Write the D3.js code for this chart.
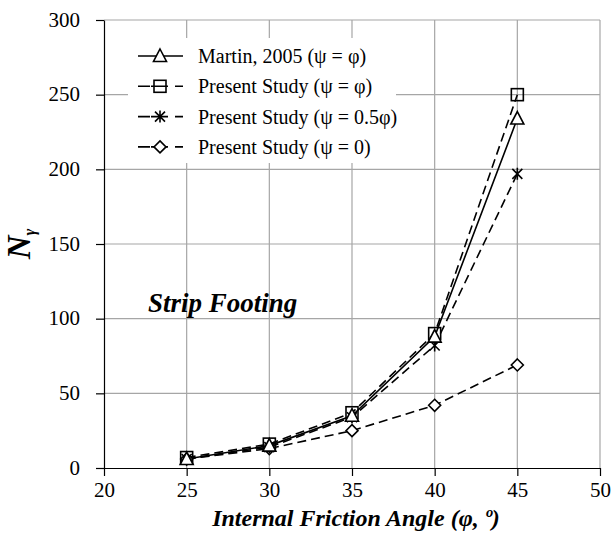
<!DOCTYPE html>
<html><head><meta charset="utf-8">
<script src="https://cdn.jsdelivr.net/npm/d3@7"></script>
<style>body{margin:0;background:#fff}svg{display:block}text{font-family:"Liberation Serif",serif}</style>
</head><body>
<svg id="c" width="614" height="540"></svg>
<script>
const angles = [25, 30, 35, 40, 45];
const martin = [6, 15, 35, 88, 234];
const presentPhi = [7, 16, 37, 90, 250];
const presentHalf = [6, 14, 34, 82, 197];
const presentZero = [6, 13, 25, 42, 69];
const xTicks = [20, 25, 30, 35, 40, 45, 50];
const yTicks = [0, 50, 100, 150, 200, 250, 300];
const seriesNames = ["Martin, 2005 (\u03c8 = \u03c6)", "Present Study (\u03c8 = \u03c6)", "Present Study (\u03c8 = 0.5\u03c6)", "Present Study (\u03c8 = 0)"];

const series = [
  {name: seriesNames[0], values: martin, marker: "triangle", dash: null},
  {name: seriesNames[1], values: presentPhi, marker: "square", dash: "9,5"},
  {name: seriesNames[2], values: presentHalf, marker: "star", dash: "9,5"},
  {name: seriesNames[3], values: presentZero, marker: "diamond", dash: "9,5"}
];

const svg = d3.select("#c");
const x = d3.scaleLinear().domain([20, 50]).range([104, 600]);
const y = d3.scaleLinear().domain([0, 300]).range([468, 20]);

// grid
svg.append("g").selectAll("line").data(xTicks.slice(1)).join("line")
  .attr("x1", d => x(d)).attr("x2", d => x(d)).attr("y1", y(300)).attr("y2", y(0))
  .attr("stroke", "#a6a6a6").attr("stroke-width", 1.2);
svg.append("g").selectAll("line").data(yTicks.slice(1)).join("line")
  .attr("x1", x(20)).attr("x2", x(50)).attr("y1", d => y(d)).attr("y2", d => y(d))
  .attr("stroke", "#a6a6a6").attr("stroke-width", 1.2);

// axes
const xAxis = svg.append("g").attr("transform", `translate(0,${y(0)})`)
  .call(d3.axisBottom(x).tickValues(xTicks).tickSize(8).tickSizeOuter(0));
const yAxis = svg.append("g").attr("transform", `translate(${x(20)},0)`)
  .call(d3.axisLeft(y).tickValues(yTicks).tickSize(8).tickSizeOuter(0));
[xAxis, yAxis].forEach(a => {
  a.attr("font-family", null).attr("font-size", null);
  a.select(".domain").attr("stroke", "#000").attr("stroke-width", 1.2);
  a.selectAll(".tick line").attr("stroke", "#000").attr("stroke-width", 1.2);
  a.selectAll("text").style("font-family", "Liberation Serif").attr("font-size", 21).attr("fill", "#000");
});
xAxis.selectAll("text").attr("y", 29).attr("dy", 0);
yAxis.selectAll("text").attr("x", -24).attr("dy", "0.3em");

// marker shapes
function drawMarker(g, type, cx, cy) {
  if (type === "triangle") {
    g.append("path").attr("d", `M${cx},${cy - 7}L${cx + 6.5},${cy + 5.5}L${cx - 6.5},${cy + 5.5}Z`)
      .attr("fill", "#fff").attr("stroke", "#000").attr("stroke-width", 1.6);
  } else if (type === "square") {
    g.append("rect").attr("x", cx - 6).attr("y", cy - 6).attr("width", 12).attr("height", 12)
      .attr("fill", "none").attr("stroke", "#000").attr("stroke-width", 1.6);
  } else if (type === "diamond") {
    g.append("path").attr("d", `M${cx},${cy - 6}L${cx + 6},${cy}L${cx},${cy + 6}L${cx - 6},${cy}Z`)
      .attr("fill", "#fff").attr("stroke", "#000").attr("stroke-width", 1.6);
  } else if (type === "star") {
    g.append("path").attr("d", `M${cx},${cy - 6}L${cx},${cy + 6}M${cx - 5},${cy - 5}L${cx + 5},${cy + 5}M${cx + 5},${cy - 5}L${cx - 5},${cy + 5}`)
      .attr("fill", "none").attr("stroke", "#000").attr("stroke-width", 1.6);
  }
}

const line = d3.line().x(d => x(d[0])).y(d => y(d[1]));
const plot = svg.append("g");
series.forEach(s => {
  const pts = angles.map((a, i) => [a, s.values[i]]);
  plot.append("path").attr("d", line(pts)).attr("fill", "none").attr("stroke", "#000")
    .attr("stroke-width", 1.6).attr("stroke-dasharray", s.dash);
});
series.slice().reverse().forEach(s => {
  angles.forEach((a, i) => drawMarker(plot, s.marker, x(a), y(s.values[i])));
});

// legend
const lg = svg.append("g");
lg.append("rect").attr("x", 128).attr("y", 38).attr("width", 268).attr("height", 125).attr("fill", "#fff");
series.forEach((s, i) => {
  const ly = 56 + i * 30.3;
  lg.append("line").attr("x1", 138).attr("x2", 183).attr("y1", ly).attr("y2", ly)
    .attr("stroke", "#000").attr("stroke-width", 1.6).attr("stroke-dasharray", s.dash ? "12,1,17,7,8" : null);
  drawMarker(lg, s.marker, 160, ly);
  lg.append("text").attr("x", 198).attr("y", ly + 7).attr("font-size", 20).text(s.name);
});

// annotation
svg.append("text").attr("x", 148).attr("y", 312)
  .attr("font-size", 27).attr("font-weight", "bold").attr("font-style", "italic").text("Strip Footing");

// axis titles
svg.append("text").attr("x", 356).attr("y", 526).attr("text-anchor", "middle")
  .attr("font-size", 24).attr("font-weight", "bold").attr("font-style", "italic").text("Internal Friction Angle (\u03c6, \u00ba)");
const yl = svg.append("text").attr("transform", "translate(30,244) rotate(-90)").attr("text-anchor", "middle")
  .attr("font-weight", "bold").attr("font-style", "italic");
yl.append("tspan").attr("font-size", 33).text("N");
yl.append("tspan").attr("font-size", 16).attr("dy", 5).text("\u03b3");
</script>
</body></html>
